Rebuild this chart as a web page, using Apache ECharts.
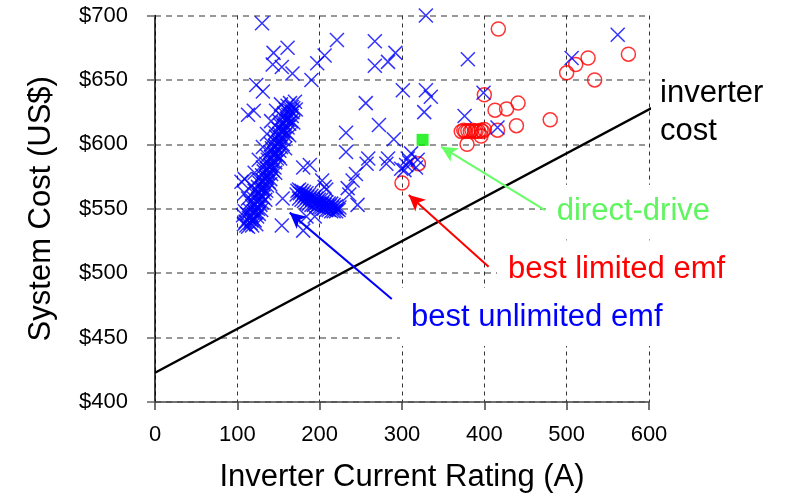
<!DOCTYPE html>
<html>
<head>
<meta charset="utf-8">
<script src="https://cdn.jsdelivr.net/npm/echarts@6/dist/echarts.min.js"></script>
<style>
  html, body { margin: 0; padding: 0; background: #fff; }
  #chart { width: 789px; height: 498px; }
</style>
</head>
<body>
<div id="chart"></div>
<script>
// 坐标轴范围和刻度
var xTicks = [0, 100, 200, 300, 400, 500, 600];
var yTicks = [400, 450, 500, 550, 600, 650, 700];

// 逆变器成本直线 (A, US$)
var inverterCost = [[0, 422.7], [608, 629.8]];

// direct-drive 点
var directDrive = [[325, 603.5]];

// best limited emf (红色圆圈)
var limitedEmf = [
  [417, 689.5], [400, 638.5], [413, 626.5], [427, 627.5], [441, 632], [439, 614.5],
  [480, 619], [416, 611], [379, 600], [396, 606.5],
  [372, 610], [375, 611], [377, 610], [380, 610.5], [383, 610], [385, 611],
  [388, 610], [390, 610.5], [393, 610], [396, 611], [398, 610], [400, 611.5],
  [500, 655.5], [511, 662], [526, 667], [534, 650], [575, 670], [320, 585], [300, 570]
];

// best unlimited emf (蓝色叉) - 斜向密集带
var unlimitedDiag = [
  [113,536],[118,537],[110,540],[116,539],[121,541],[114,543],[119,542],[124,544],[112,546],[117,545],
  [122,547],[126,546],[115,549],[120,548],[125,550],[118,552],[123,551],[128,553],[116,555],[121,554],
  [126,556],[130,555],[120,558],[125,557],[131,559],[122,561],[127,560],[133,562],[121,564],[126,563],
  [131,565],[135,564],[125,567],[130,566],[136,568],[127,570],[132,569],[138,571],[126,573],[131,572],
  [136,574],[140,573],[130,576],[135,575],[141,577],[132,579],[137,578],[143,580],[131,582],[136,581],
  [141,583],[145,582],[135,585],[140,584],[146,586],[137,588],[142,587],[148,589],[136,591],[141,590],
  [146,592],[150,591],[140,594],[145,593],[151,595],[142,597],[147,596],[153,598],[141,600],[146,599],
  [151,601],[155,600],[145,603],[150,602],[156,604],[147,606],[152,605],[158,607],[146,609],[151,608],
  [156,610],[160,609],[150,612],[155,611],[161,613],[152,615],[157,614],[163,616],[151,618],[156,617],
  [161,619],[165,618],[155,621],[160,620],[166,622],[157,624],[162,623],[167,625],[159,627],[164,626],
  [168,628],[161,630],[166,629],[164,632],
  [108,538],[123,538],[109,548],[129,549],[113,558],[134,557],[117,568],[140,569],[121,578],[146,578],
  [126,588],[152,589],[131,598],[158,597],[136,608],[163,607],[141,618],[168,617],[147,626],[171,627],
  [153,631],[170,633]
];

// 横向密集块
var unlimitedBlob = [
  [172,561],[173,564],[175,558],[176,562],[175,565],[178,557],[179,561],[178,564],[181,556],[182,560],
  [181,563],[184,555],[185,559],[184,562],[187,554],[188,558],[187,561],[190,553],[191,557],[190,560],
  [193,553],[194,556],[193,559],[196,552],[197,555],[196,558],[199,551],[200,554],[199,557],[202,551],
  [203,554],[202,557],[205,550],[206,553],[205,556],[208,549],[209,552],[208,555],[211,549],[212,552],
  [211,554],[214,548],[215,551],[214,554],[217,548],[218,551],[217,553],[220,548],[221,550],[220,552],
  [223,549],[224,551]
];

// 零散点
var unlimitedScatter = [
  [130,694],[144,671],[161,675],[143,662],[154,660],[167,655],[123,646],[131,641],[113,623],[120,626],
  [190,650],[197,663],[206,669],[221,681],[267,680],[267,661],[283,664],[292,671],[329,700],[301,642],
  [329,642],[335,637],[327,625],[256,632],[272,615],[290,604],[232,609],[232,594],[180,582],[188,584],
  [203,572],[206,567],[208,565],[244,577],[240,572],[234,566],[236,561],[246,553],[257,585],[259,589],
  [281,585],[283,589],[299,581],[303,580],[307,589],[309,586],[311,593],[317,582],[319,588],[305,584],
  [155,558],[154,537],[180,533],[184,544],[194,544],[109,573],[105,571],[109,562],[107,545],[111,537],
  [117,541],[380,666],[506,667],[562,685],[399,640],[416,613],[376,622]
];

// 标注箭头 [起点, 终点]
var arrowUnlimited = [[287.6, 480], [163.6, 547]];
var arrowLimited = [[405.2, 505], [308.2, 560.7]];
var arrowDirect = [[473.6, 549], [347.5, 598.2]];

var FONT = '"Liberation Sans", Arial, sans-serif';
var crossPath = 'path://M0,0L10,10M10,0L0,10';

var chart = echarts.init(document.getElementById('chart'));

function arrow(pts, color) {
  return [
    { coord: pts[0], lineStyle: { color: color, width: 2, type: 'solid' } },
    { coord: pts[1] }
  ];
}

function label(text, x, y, color, pad) {
  return {
    type: 'text',
    x: x,
    y: y,
    z: 1,
    style: {
      text: text,
      fill: color,
      font: '31px ' + FONT,
      align: 'left',
      verticalAlign: 'middle',
      lineHeight: 38,
      backgroundColor: pad ? '#fff' : 'transparent',
      padding: pad || 0
    }
  };
}

var option = {
  animation: false,
  backgroundColor: '#fff',
  grid: { left: 155, right: 140, top: 15.5, bottom: 96, containLabel: false },
  xAxis: {
    type: 'value',
    min: xTicks[0],
    max: xTicks[xTicks.length - 1],
    interval: 100,
    name: 'Inverter Current Rating (A)',
    nameLocation: 'middle',
    nameGap: 60,
    nameTextStyle: { fontFamily: FONT, fontSize: 31, color: '#000' },
    axisLine: { show: true, lineStyle: { color: '#444', width: 1.5 } },
    axisTick: { show: true, inside: false, length: 8, lineStyle: { color: '#444', width: 1.5 } },
    axisLabel: { fontFamily: FONT, fontSize: 22, color: '#000', margin: 22 },
    splitLine: { show: true, lineStyle: { color: '#333', width: 1, type: [4, 4] } }
  },
  yAxis: {
    type: 'value',
    min: yTicks[0],
    max: yTicks[yTicks.length - 1],
    interval: 50,
    name: 'System Cost (US$)',
    nameLocation: 'middle',
    nameGap: 98,
    nameTextStyle: { fontFamily: FONT, fontSize: 31, color: '#000' },
    axisLine: { show: true, lineStyle: { color: '#000', width: 1.5 } },
    axisTick: { show: true, inside: false, length: 8, lineStyle: { color: '#666', width: 1.5 } },
    axisLabel: { fontFamily: FONT, fontSize: 22, color: '#000', margin: 27, formatter: '${value}' },
    splitLine: { show: true, lineStyle: { color: '#777', width: 1.5, type: [6, 5] } }
  },
  graphic: [
    label('inverter\ncost', 660, 112, '#000', null),
    label('direct-drive', 545.7, 211.7, '#5ef55e', [8, 6, 8, 11]),
    label('best limited emf', 497, 269.3, '#ff0000', [10, 6, 10, 11]),
    label('best unlimited emf', 400, 317, '#0000ff', [10, 6, 10, 11])
  ],
  series: [
    {
      name: 'inverter cost',
      type: 'line',
      data: inverterCost,
      symbol: 'none',
      clip: false,
      z: 3,
      lineStyle: { color: '#000', width: 2.5 },
      emphasis: { disabled: true },
      markLine: {
        silent: true,
        symbol: ['none', 'arrow'],
        symbolSize: [12, 16],
        label: { show: false },
        emphasis: { disabled: true },
        data: [
          arrow(arrowUnlimited, '#0000ff'),
          arrow(arrowLimited, '#ff0000'),
          arrow(arrowDirect, '#66ff66')
        ]
      }
    },
    {
      name: 'best limited emf',
      type: 'scatter',
      data: limitedEmf,
      symbol: 'circle',
      symbolSize: 14,
      z: 4,
      itemStyle: { color: 'rgba(255,255,255,0)', borderColor: '#ff0000', borderWidth: 1.5 },
      emphasis: { disabled: true }
    },
    {
      name: 'best unlimited emf',
      type: 'scatter',
      data: unlimitedDiag.concat(unlimitedBlob, unlimitedScatter),
      symbol: crossPath,
      symbolSize: 14,
      z: 5,
      itemStyle: { color: 'rgba(0,0,0,0)', borderColor: '#0000ff', borderWidth: 1.5 },
      emphasis: { disabled: true }
    },
    {
      name: 'direct-drive',
      type: 'scatter',
      data: directDrive,
      symbol: 'rect',
      symbolSize: 12,
      z: 6,
      itemStyle: { color: '#00ee00' },
      emphasis: { disabled: true }
    }
  ]
};

chart.setOption(option);
</script>
</body>
</html>
